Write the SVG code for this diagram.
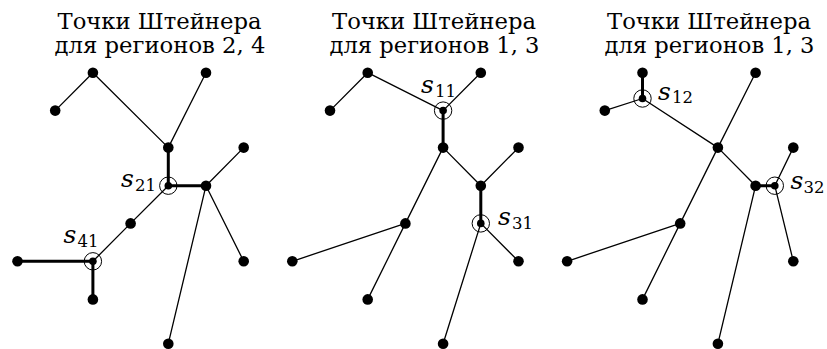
<svg xmlns="http://www.w3.org/2000/svg" width="827" height="349" viewBox="0 0 827 349">
<style>
.t{font-family:"DejaVu Serif","Liberation Serif","Times New Roman",serif;font-size:22px;fill:#000;text-anchor:middle}
.e{stroke:#000;stroke-width:1.3;fill:none;stroke-linecap:round}
.k{stroke:#000;stroke-width:3;fill:none;stroke-linecap:round}
.d{fill:#000}
.r{fill:none;stroke:#000;stroke-width:1}
.l{font-family:"DejaVu Serif","Liberation Serif","Times New Roman",serif;fill:#000}
.s{font-style:italic;font-size:25px}
.n{font-size:16.5px}
</style>
<defs>
<circle id="dot" r="5.3" class="d"/>
<g id="st"><circle r="8.7" class="r"/><circle r="3.8" class="d"/></g>
</defs>
<rect width="827" height="349" fill="#fff"/>
<g id="titles">
<text class="t" x="159.5" y="28.5" textLength="204" lengthAdjust="spacingAndGlyphs">Точки Штейнера</text>
<text class="t" x="160" y="52.5" textLength="211" lengthAdjust="spacingAndGlyphs">для регионов 2, 4</text>
<text class="t" x="434" y="28.5" textLength="204" lengthAdjust="spacingAndGlyphs">Точки Штейнера</text>
<text class="t" x="434.5" y="52.5" textLength="210" lengthAdjust="spacingAndGlyphs">для регионов 1, 3</text>
<text class="t" x="709" y="28.5" textLength="204" lengthAdjust="spacingAndGlyphs">Точки Штейнера</text>
<text class="t" x="709.5" y="52.5" textLength="210" lengthAdjust="spacingAndGlyphs">для регионов 1, 3</text>
</g>
<g id="connectors">
<!-- panel 1 -->
<line class="e" x1="55.2" y1="110.6" x2="92.9" y2="72.7"/>
<line class="e" x1="92.9" y1="72.7" x2="168.3" y2="147.6"/>
<line class="e" x1="206" y1="72.7" x2="168.3" y2="147.6"/>
<line class="k" x1="168.3" y1="147.6" x2="168.3" y2="185.7"/>
<line class="k" x1="168.3" y1="185.7" x2="206" y2="185.7"/>
<line class="e" x1="206" y1="185.7" x2="243.7" y2="147.6"/>
<line class="e" x1="168.3" y1="185.7" x2="130.6" y2="223.4"/>
<line class="e" x1="130.6" y1="223.4" x2="92.9" y2="261.3"/>
<line class="k" x1="17.5" y1="261.3" x2="92.9" y2="261.3"/>
<line class="k" x1="92.9" y1="261.3" x2="92.9" y2="299.4"/>
<line class="e" x1="206" y1="185.7" x2="243.7" y2="261.3"/>
<line class="e" x1="206" y1="185.7" x2="168.3" y2="343.7"/>
<!-- panel 2 -->
<line class="e" x1="330" y1="110.6" x2="367.7" y2="72.7"/>
<line class="e" x1="367.7" y1="72.7" x2="443.1" y2="110.6"/>
<line class="e" x1="480.8" y1="72.7" x2="443.1" y2="110.6"/>
<line class="k" x1="443.1" y1="110.6" x2="443.1" y2="147.6"/>
<line class="e" x1="443.1" y1="147.6" x2="480.8" y2="185.7"/>
<line class="e" x1="518.5" y1="147.6" x2="480.8" y2="185.7"/>
<line class="e" x1="443.1" y1="147.6" x2="405.4" y2="223.4"/>
<line class="e" x1="405.4" y1="223.4" x2="292.3" y2="261.3"/>
<line class="e" x1="405.4" y1="223.4" x2="367.7" y2="299.4"/>
<line class="k" x1="480.8" y1="185.7" x2="480.8" y2="223.4"/>
<line class="e" x1="480.8" y1="223.4" x2="518.5" y2="261.3"/>
<line class="e" x1="480.8" y1="223.4" x2="443.1" y2="343.7"/>
<!-- panel 3 -->
<line class="k" x1="642.5" y1="72.7" x2="642.5" y2="98.5"/>
<line class="e" x1="604.8" y1="110.6" x2="642.5" y2="98.5"/>
<line class="e" x1="642.5" y1="98.5" x2="717.9" y2="147.6"/>
<line class="e" x1="755.6" y1="72.7" x2="717.9" y2="147.6"/>
<line class="e" x1="717.9" y1="147.6" x2="680.2" y2="223.4"/>
<line class="e" x1="717.9" y1="147.6" x2="755.6" y2="185.7"/>
<line class="k" x1="755.6" y1="185.7" x2="774.8" y2="185.7"/>
<line class="e" x1="793.3" y1="147.6" x2="774.8" y2="185.7"/>
<line class="e" x1="774.8" y1="185.7" x2="793.3" y2="261.3"/>
<line class="e" x1="755.6" y1="185.7" x2="717.9" y2="343.7"/>
<line class="e" x1="680.2" y1="223.4" x2="567.1" y2="261.3"/>
<line class="e" x1="680.2" y1="223.4" x2="642.5" y2="299.4"/>
</g>
<!-- panel 1 nodes -->
<g id="p1A"><use href="#dot" x="92.9" y="72.7"/></g>
<g id="p1B"><use href="#dot" x="55.2" y="110.6"/></g>
<g id="p1C"><use href="#dot" x="206" y="72.7"/></g>
<g id="p1D"><use href="#dot" x="168.3" y="147.6"/></g>
<g id="p1E"><use href="#dot" x="243.7" y="147.6"/></g>
<g id="p1s21"><use href="#st" x="168.3" y="185.7"/><text class="l" x="121" y="186.5"><tspan class="s">s</tspan><tspan class="n" x="135" y="190.5">21</tspan></text></g>
<g id="p1F"><use href="#dot" x="206" y="185.7"/></g>
<g id="p1G"><use href="#dot" x="130.6" y="223.4"/></g>
<g id="p1s41"><use href="#st" x="92.9" y="261.3"/><text class="l" x="63.5" y="242.5"><tspan class="s">s</tspan><tspan class="n" x="77.5" y="246.5">41</tspan></text></g>
<g id="p1H"><use href="#dot" x="17.5" y="261.3"/></g>
<g id="p1I"><use href="#dot" x="92.9" y="299.4"/></g>
<g id="p1J"><use href="#dot" x="243.7" y="261.3"/></g>
<g id="p1K"><use href="#dot" x="168.3" y="343.7"/></g>
<!-- panel 2 nodes -->
<g id="p2A"><use href="#dot" x="367.7" y="72.7"/></g>
<g id="p2B"><use href="#dot" x="330" y="110.6"/></g>
<g id="p2C"><use href="#dot" x="480.8" y="72.7"/></g>
<g id="p2s11"><use href="#st" x="443.1" y="110.6"/><text class="l" x="421" y="93"><tspan class="s">s</tspan><tspan class="n" x="435" y="96.5">11</tspan></text></g>
<g id="p2D"><use href="#dot" x="443.1" y="147.6"/></g>
<g id="p2E"><use href="#dot" x="518.5" y="147.6"/></g>
<g id="p2F"><use href="#dot" x="480.8" y="185.7"/></g>
<g id="p2G"><use href="#dot" x="405.4" y="223.4"/></g>
<g id="p2s31"><use href="#st" x="480.8" y="223.4"/><text class="l" x="498" y="225"><tspan class="s">s</tspan><tspan class="n" x="512" y="229">31</tspan></text></g>
<g id="p2H"><use href="#dot" x="292.3" y="261.3"/></g>
<g id="p2I"><use href="#dot" x="367.7" y="299.4"/></g>
<g id="p2J"><use href="#dot" x="518.5" y="261.3"/></g>
<g id="p2K"><use href="#dot" x="443.1" y="343.7"/></g>
<!-- panel 3 nodes -->
<g id="p3A"><use href="#dot" x="642.5" y="72.7"/></g>
<g id="p3s12"><use href="#st" x="642.5" y="98.5"/><text class="l" x="658" y="99.5"><tspan class="s">s</tspan><tspan class="n" x="672" y="103">12</tspan></text></g>
<g id="p3B"><use href="#dot" x="604.8" y="110.6"/></g>
<g id="p3C"><use href="#dot" x="755.6" y="72.7"/></g>
<g id="p3D"><use href="#dot" x="717.9" y="147.6"/></g>
<g id="p3E"><use href="#dot" x="793.3" y="147.6"/></g>
<g id="p3F"><use href="#dot" x="755.6" y="185.7"/></g>
<g id="p3s32"><use href="#st" x="774.8" y="185.7"/><text class="l" x="790.5" y="188.5"><tspan class="s">s</tspan><tspan class="n" x="803.5" y="192.5">32</tspan></text></g>
<g id="p3G"><use href="#dot" x="680.2" y="223.4"/></g>
<g id="p3H"><use href="#dot" x="567.1" y="261.3"/></g>
<g id="p3I"><use href="#dot" x="642.5" y="299.4"/></g>
<g id="p3J"><use href="#dot" x="793.3" y="261.3"/></g>
<g id="p3K"><use href="#dot" x="717.9" y="343.7"/></g>
</svg>
